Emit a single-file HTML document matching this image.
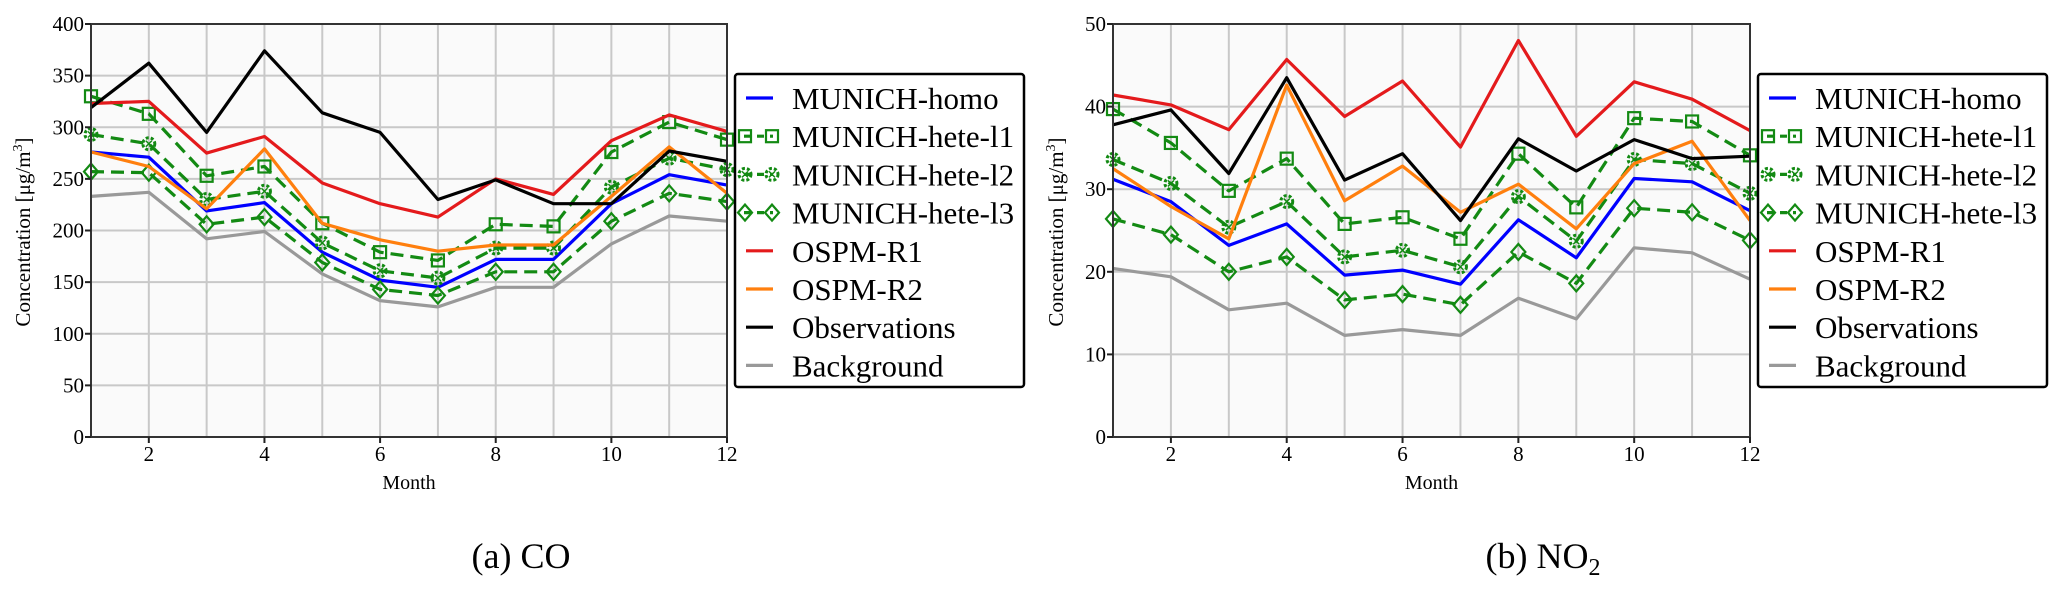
<!DOCTYPE html>
<html><head><meta charset="utf-8">
<style>
html,body{margin:0;padding:0;background:#fff;}
svg{display:block;font-family:"Liberation Serif",serif;}
</style></head>
<body>
<svg id="fig" width="2067" height="590" viewBox="0 0 2067 590" xmlns="http://www.w3.org/2000/svg">
<text x="521" y="568" font-size="36" text-anchor="middle">(a) CO</text>
<text x="1543" y="568" font-size="36" text-anchor="middle">(b) NO<tspan font-size="24" dy="7">2</tspan></text>
</svg>
<script>
const months = [1,2,3,4,5,6,7,8,9,10,11,12];
const seriesNames = ["MUNICH-homo","MUNICH-hete-l1","MUNICH-hete-l2","MUNICH-hete-l3","OSPM-R1","OSPM-R2","Observations","Background"];
const xTicks = [2,4,6,8,10,12];
const coTicks = [0,50,100,150,200,250,300,350,400];
const no2Ticks = [0,10,20,30,40,50];
const coHomo = [276,271,219,227,179,152,145,172,172,226,254,244];
const coL1 = [330,313,253,262,207,179,171,206,204,276,305,288];
const coL2 = [293,284,230,238,188,161,154,183,183,242,270,259];
const coL3 = [257,256,206,213,169,143,137,160,160,209,236,228];
const coR1 = [323,325,275,291,246,226,213,250,235,287,312,296];
const coR2 = [276,262,221,279,207,191,180,186,186,233,281,236];
const coObs = [319,362,295,374,314,295,230,249,226,226,277,267];
const coBg = [233,237,192,199,158,132,126,145,145,187,214,209];
const no2Homo = [31.2,28.5,23.2,25.8,19.6,20.2,18.5,26.3,21.7,31.3,30.9,27.4];
const no2L1 = [39.7,35.6,29.8,33.7,25.8,26.6,24.0,34.3,27.8,38.6,38.2,34.1];
const no2L2 = [33.6,30.7,25.4,28.5,21.8,22.6,20.6,29.1,23.7,33.6,33.1,29.5];
const no2L3 = [26.4,24.5,20.0,21.8,16.6,17.3,16.0,22.4,18.6,27.7,27.2,23.8];
const no2R1 = [41.4,40.2,37.2,45.7,38.8,43.1,35.1,48.0,36.4,43.0,40.9,37.1];
const no2R2 = [32.5,27.9,24.0,42.6,28.6,32.8,27.2,30.6,25.2,33.1,35.8,26.2];
const no2Obs = [37.8,39.6,31.9,43.5,31.1,34.3,26.2,36.1,32.2,36.0,33.7,34.0];
const no2Bg = [20.4,19.4,15.4,16.2,12.3,13.0,12.3,16.8,14.3,22.9,22.3,19.1];

const NS="http://www.w3.org/2000/svg";
const svg=document.getElementById('fig');
function mk(tag,attrs,parent){const e=document.createElementNS(NS,tag);for(const k in attrs)e.setAttribute(k,attrs[k]);(parent||svg).appendChild(e);return e;}
const G="#138a13";
const styles=[
 {c:"#0000ff",dash:null,m:null},
 {c:G,dash:"13,7",m:"square"},
 {c:G,dash:"13,7",m:"x"},
 {c:G,dash:"13,7",m:"diamond"},
 {c:"#e41a1c",dash:null,m:null},
 {c:"#ff7f0e",dash:null,m:null},
 {c:"#000000",dash:null,m:null},
 {c:"#999999",dash:null,m:null}];
function marker(g,type,x,y,c){
  let e;
  if(type==="square"){e=mk('rect',{x:x-6,y:y-6,width:12,height:12,fill:"none",stroke:c,"stroke-width":2.2},g);}
  else if(type==="diamond"){e=mk('path',{d:`M${x} ${y-8}L${x+7} ${y}L${x} ${y+8}L${x-7} ${y}Z`,fill:"none",stroke:c,"stroke-width":2.2},g);}
  else {e=mk('g',{},g);
    mk('circle',{cx:x,cy:y,r:6,fill:"none",stroke:c,"stroke-width":3,"stroke-dasharray":"3,2"},e);
    mk('path',{d:`M${x-3} ${y-3}L${x+3} ${y+3}M${x+3} ${y-3}L${x-3} ${y+3}`,stroke:c,"stroke-width":1.5},e);}
  
  
}
function chart(opt){
  const L=opt.left,R=opt.right,T=24,B=437;
  const xs=m=>L+(m-1)*(R-L)/11;
  const ys=v=>B-(v/opt.max)*(B-T);
  const g=mk('g',{});
  
  
  const bg=mk('rect',{x:L,y:T,width:R-L,height:B-T,fill:"#fafafa"},g);
  
  
  months.forEach(m=>{if(m>1&&m<12){const l=mk('line',{x1:xs(m),x2:xs(m),y1:T,y2:B,stroke:"#c8c8c8","stroke-width":2},g);}});
  opt.ticks.forEach(v=>{if(v>0&&v<opt.max){const l=mk('line',{x1:L,x2:R,y1:ys(v),y2:ys(v),stroke:"#c8c8c8","stroke-width":2},g);}});
  opt.data.forEach((arr,i)=>{
    const st=styles[i];
    const sg=mk('g',{},g);
    
    
    const pts=arr.map((v,k)=>xs(months[k]).toFixed(1)+","+ys(v).toFixed(1)).join(" ");
    const pl=mk('polyline',{points:pts,fill:"none",stroke:st.c,"stroke-width":3.2,"stroke-linejoin":"round"},sg);
    if(st.dash)pl.setAttribute('stroke-dasharray',st.dash);
    
    
    if(st.m)arr.forEach((v,k)=>marker(sg,st.m,xs(months[k]),ys(v),st.c));
  });
  const fr=mk('rect',{x:L,y:T,width:R-L,height:B-T,fill:"none",stroke:"#333","stroke-width":2},g);
  
  
  opt.ticks.forEach(v=>{
    mk('line',{x1:L-6,x2:L,y1:ys(v),y2:ys(v),stroke:"#222","stroke-width":2},g);
    const t=mk('text',{x:L-7,y:ys(v)+7,"font-size":21,"text-anchor":"end"},g);t.textContent=v;
    
    
  });
  xTicks.forEach(m=>{
    mk('line',{x1:xs(m),x2:xs(m),y1:B,y2:B+6,stroke:"#222","stroke-width":2},g);
    const t=mk('text',{x:xs(m),y:B+24,"font-size":21,"text-anchor":"middle"},g);t.textContent=m;
    
    
  });
  const xl=mk('text',{x:(L+R)/2,y:489,"font-size":20,"text-anchor":"middle"},g);xl.textContent="Month";
  
  
  const yl=mk('text',{x:0,y:0,"font-size":21,"text-anchor":"middle",transform:`translate(${opt.ylx},232) rotate(-90)`},g);
  yl.innerHTML='Concentration [μg/m<tspan font-size="14" dy="-8">3</tspan><tspan dy="8">]</tspan>';
  
  
  // legend
  const lx=R+8,ly=74,lw=289,lh=313;
  const lg=mk('g',{},g);
  
  
  mk('rect',{x:lx,y:ly,width:lw,height:lh,rx:3,fill:"#fff",stroke:"#000","stroke-width":2.5},lg);
  seriesNames.forEach((n,i)=>{
    const st=styles[i];const cy=ly+24+i*38.2;
    const eg=mk('g',{},lg);
    
    
    if(st.m){
      mk('line',{x1:lx+9,x2:lx+38,y1:cy,y2:cy,stroke:st.c,"stroke-width":3.2,"stroke-dasharray":"7,6"},eg);
      marker(eg,st.m,lx+10,cy,st.c);marker(eg,st.m,lx+37,cy,st.c);
    } else mk('line',{x1:lx+11,x2:lx+38,y1:cy,y2:cy,stroke:st.c,"stroke-width":3.2},eg);
    const t=mk('text',{x:lx+57,y:cy+11,"font-size":31},eg);t.textContent=n;
  });
}
chart({name:"co-chart",left:91,right:727,max:400,ticks:coTicks,ylx:30,data:[coHomo,coL1,coL2,coL3,coR1,coR2,coObs,coBg]});
chart({name:"no2-chart",left:1113,right:1750,max:50,ticks:no2Ticks,ylx:1063,data:[no2Homo,no2L1,no2L2,no2L3,no2R1,no2R2,no2Obs,no2Bg]});
</script>
</body></html>
